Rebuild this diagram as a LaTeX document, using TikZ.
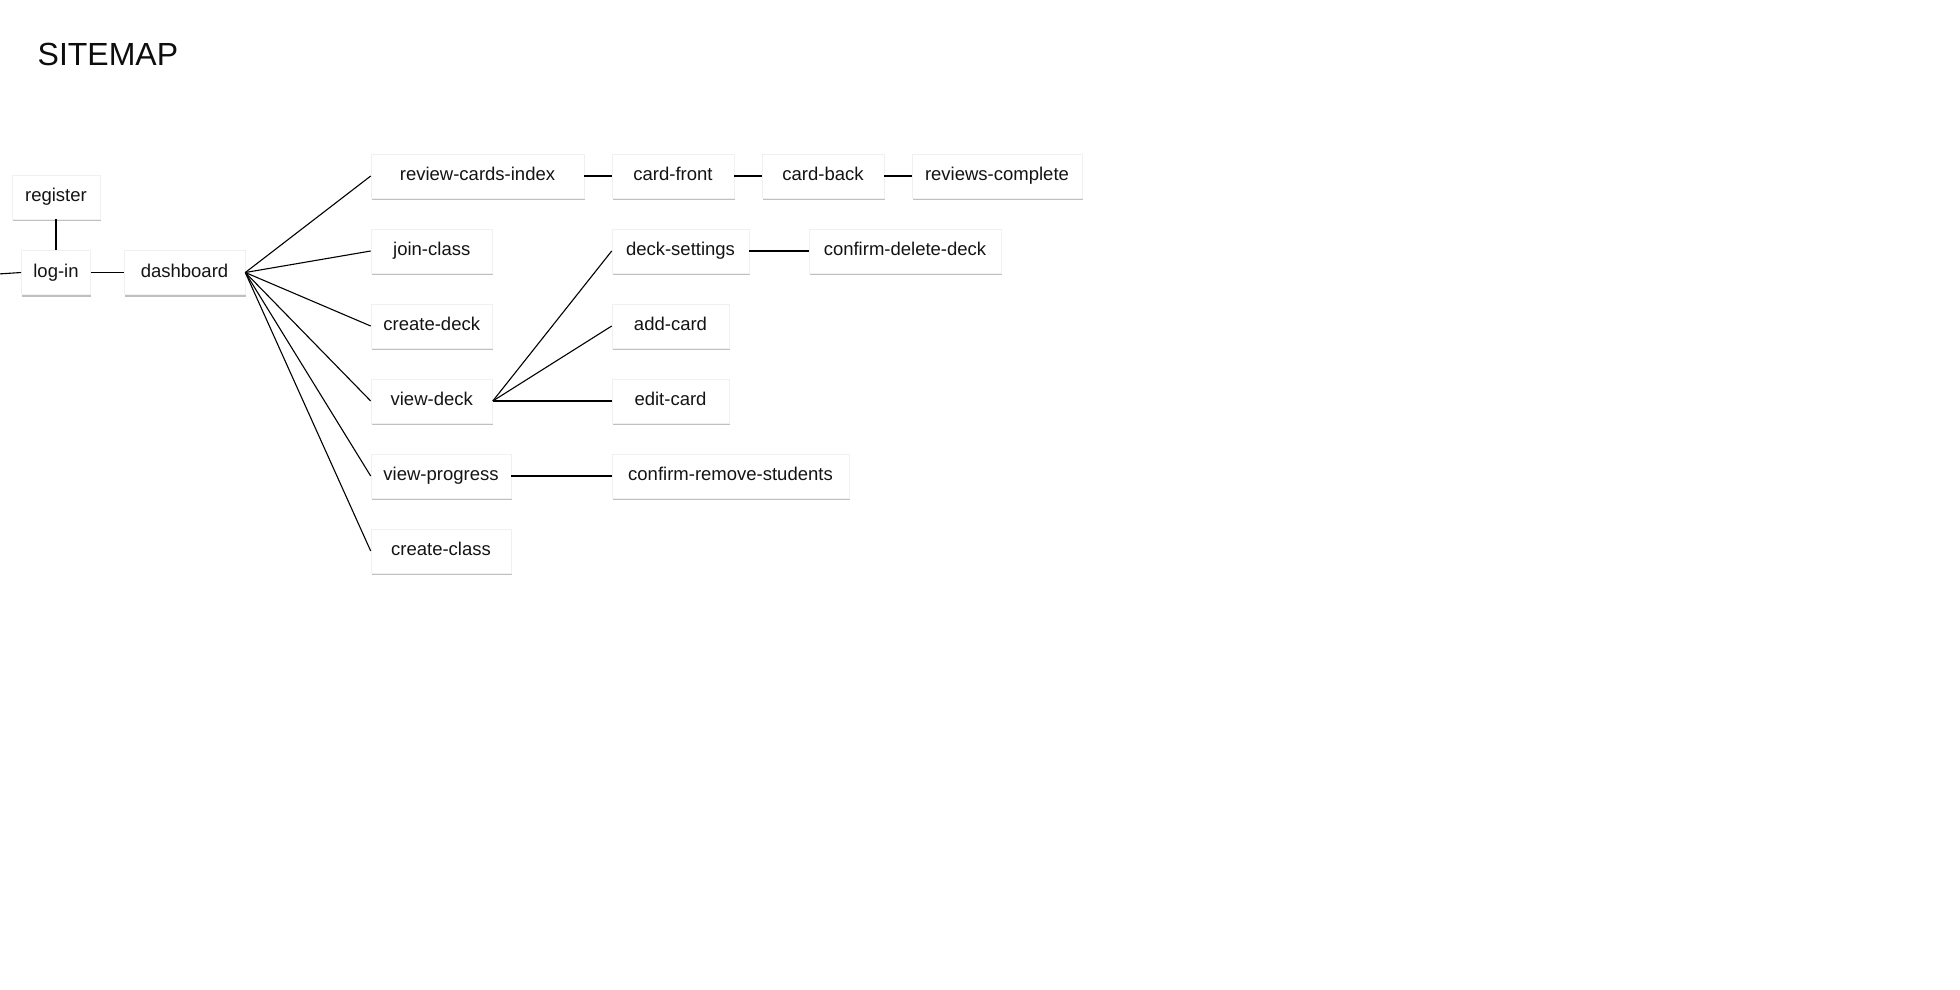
\documentclass[tikz,border=0pt]{standalone}
\usepackage{fontspec}
\setmainfont{Liberation Sans}
\usetikzlibrary{shadows}
\begin{document}
\begin{tikzpicture}[x=1pt,y=-1pt,
  page/.style={draw=black!6, fill=white, line width=0.6pt,
    rectangle, inner sep=0pt, minimum height=44pt, text=black!92,
    text height=13pt, text depth=4pt,
    font=\fontsize{18.5}{22}\selectfont,
    drop shadow={opacity=0.38, shadow xshift=0.8pt, shadow yshift=-2.4pt, fill=black!65}},
  link/.style={draw=black, line width=1.1pt}]
  \useasboundingbox (0,0) rectangle (1960,989);

  % heading
  \node[anchor=base west, inner sep=0pt, font=\fontsize{32}{38}\selectfont, text=black!95]
    (title) at (37.5,65.5) {SITEMAP};

  % entry pages
  \node[page, minimum width=88pt]  (register)  at (56,197)    {register};
  \node[page, minimum width=69pt]  (login)     at (56,272.5)  {log-in};
  \node[page, minimum width=121pt] (dashboard) at (184.5,272.5) {dashboard};

  % second level
  \node[page, minimum width=213pt]   (review)   at (477.5,176)  {review-cards-index};
  \node[page, minimum width=121.5pt] (join)     at (431.75,251) {join-class};
  \node[page, minimum width=121.5pt] (createdeck) at (431.75,326) {create-deck};
  \node[page, minimum width=121.5pt] (viewdeck) at (431.75,401) {view-deck};
  \node[page, minimum width=140pt]   (progress) at (441,476)    {view-progress};
  \node[page, minimum width=140pt]   (createclass) at (441,551) {create-class};

  % review flow
  \node[page, minimum width=122pt] (front)    at (673,176) {card-front};
  \node[page, minimum width=122pt] (back)     at (823,176) {card-back};
  \node[page, minimum width=170pt] (complete) at (997,176) {reviews-complete};

  % deck pages
  \node[page, minimum width=137pt] (settings) at (680.5,251) {deck-settings};
  \node[page, minimum width=192pt] (deldeck)  at (905,251)   {confirm-delete-deck};
  \node[page, minimum width=117pt] (addcard)  at (670.5,326) {add-card};
  \node[page, minimum width=117pt] (editcard) at (670.5,401) {edit-card};

  % progress pages
  \node[page, minimum width=237pt] (removestud) at (730.5,476) {confirm-remove-students};

  % incoming link from the site root
  \coordinate (root) at (-2,274);

  \draw[link] (root) -- (login.west);
  \draw[link] (register.south) -- (login.north);
  \draw[link] (login.east) -- (dashboard.west);

  \foreach \t in {review,join,createdeck,viewdeck,progress,createclass}
    \draw[link] (dashboard.east) -- (\t.west);

  \draw[link] (review.east) -- (front.west);
  \draw[link] (front.east) -- (back.west);
  \draw[link] (back.east) -- (complete.west);

  \foreach \t in {settings,addcard,editcard}
    \draw[link] (viewdeck.east) -- (\t.west);
  \draw[link] (settings.east) -- (deldeck.west);

  \draw[link] (progress.east) -- (removestud.west);
\end{tikzpicture}
\end{document}
